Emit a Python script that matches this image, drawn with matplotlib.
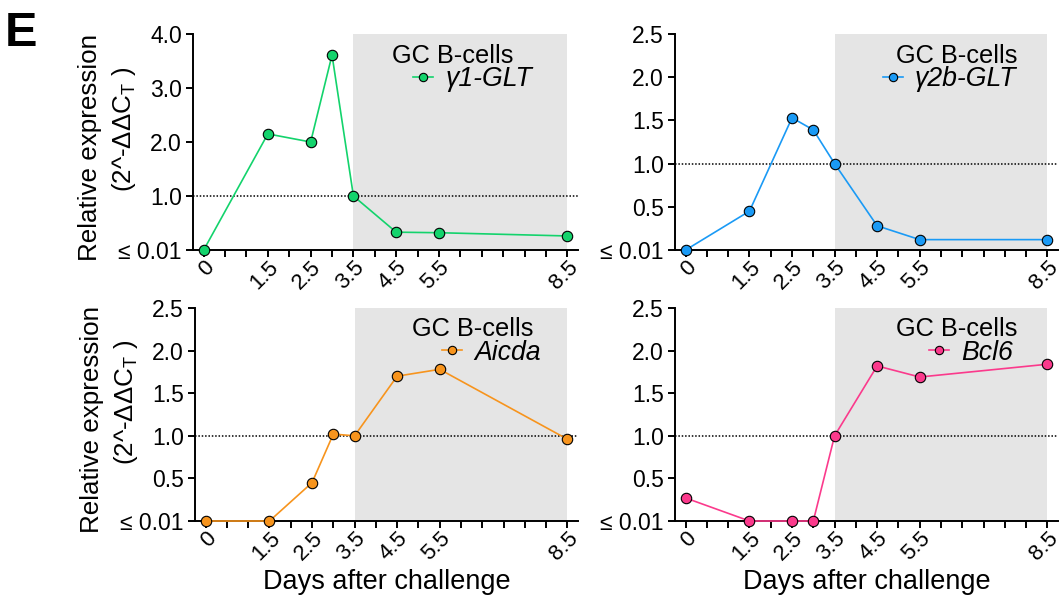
import numpy as np
import matplotlib
matplotlib.use('Agg')
import matplotlib.pyplot as plt

plt.rcParams['font.family'] = ['Liberation Sans', 'DejaVu Sans']
plt.rcParams['mathtext.default'] = 'regular'

days = [0, 1.5, 2.5, 3, 3.5, 4.5, 5.5, 8.5]
xtick_days = [0, 1.5, 2.5, 3.5, 4.5, 5.5, 8.5]

glt1 = [0.0, 2.15, 2.0, 3.61, 1.0, 0.33, 0.32, 0.26]
glt2b = [0.0, 0.45, 1.53, 1.39, 1.0, 0.28, 0.12, 0.12]
aicda = [0.0, 0.0, 0.45, 1.02, 1.0, 1.70, 1.78, 0.96]
bcl6 = [0.27, 0.0, 0.0, 0.0, 1.0, 1.82, 1.69, 1.84]

names = ['γ1-GLT', 'γ2b-GLT', 'Aicda', 'Bcl6']
colors = ['#13d36c', '#1a9af5', '#f7941d', '#fb3a8c']
yticks_a = [0, 1, 2, 3, 4]
yticks_b = [0, 0.5, 1, 1.5, 2, 2.5]
ylabels_a = ['≤ 0.01', '1.0', '2.0', '3.0', '4.0']
ylabels_b = ['≤ 0.01', '0.5', '1.0', '1.5', '2.0', '2.5']
yticks_all = [yticks_a, yticks_b, yticks_b, yticks_b]
ylabels_all = [ylabels_a, ylabels_b, ylabels_b, ylabels_b]
series = [glt1, glt2b, aicda, bcl6]

W, H = 1062, 599
fig = plt.figure(figsize=(W / 100, H / 100), dpi=100)

# axes boxes in pixels: left, top, right, bottom
boxes = [(193, 34, 578, 250), (675, 34, 1058, 250),
         (195, 308, 578, 521), (675, 308, 1058, 521)]
# title x (axes frac) and legend-entry left x (axes frac)
title_x = [0.675, 0.736, 0.726, 0.736]
entry_x = [0.572, 0.543, 0.645, 0.663]

for i, (l, t, r, b) in enumerate(boxes):
    ax = fig.add_axes([l / W, 1 - b / H, (r - l) / W, (b - t) / H])
    ax.set_xlim(-0.25, 8.75)
    ax.set_ylim(0, yticks_all[i][-1])
    ax.axvspan(3.5, 8.5, color='#e5e5e5', lw=0, zorder=0)
    ax.axhline(1.0, color='black', ls=(0, (1, 1.2)), lw=1.1, zorder=1)
    ax.plot(days, series[i], color=colors[i], lw=1.2, marker='o', ms=7.5,
            mfc=colors[i], mec='black', mew=0.8, zorder=3, clip_on=False,
            label=names[i])
    for s in ['top', 'right']:
        ax.spines[s].set_visible(False)
    for s in ['left', 'bottom']:
        ax.spines[s].set_linewidth(1.4)
    ax.set_yticks(yticks_all[i])
    ax.set_yticklabels(ylabels_all[i])
    xt = np.arange(0, 9, 0.5)
    ax.set_xticks(xt)
    ax.set_xticklabels([('%g' % v) if v in xtick_days else '' for v in xt],
                       rotation=45, ha='right', va='top', rotation_mode='anchor')
    ax.tick_params(direction='out', length=5, width=1.4, labelsize=16.5, pad=3)
    ax.tick_params(axis='x', pad=0, labelsize=16)
    ax.text(title_x[i], 0.868, 'GC B-cells', transform=ax.transAxes,
            ha='center', va='baseline', fontsize=18.3)
    leg = ax.legend(loc='center left', bbox_to_anchor=(entry_x[i], 0.79),
                    frameon=False, handlelength=0.75, handletextpad=0.45,
                    markerscale=0.8, fontsize=19.2, borderaxespad=0,
                    borderpad=0)
    for txt in leg.get_texts():
        txt.set_fontstyle('italic')
    if i % 2 == 0:
        # two-line y label, drawn as two texts
        ax.text(-0.268, 0.475, 'Relative expression', transform=ax.transAxes,
                rotation=90, ha='center', va='center', fontsize=18.7)
        ax.text(-0.180, 0.56, '(2^-ΔΔC$_{T}$ )', transform=ax.transAxes,
                rotation=90, ha='center', va='center', fontsize=18.7)
    if i >= 2:
        ax.set_xlabel('Days after challenge', fontsize=19.5, va='top')
        ax.xaxis.set_label_coords(0.5, -0.225)

fig.text(5 / W, 1 - 11 / H, 'E', fontsize=35, fontweight='bold', va='top', ha='left')

fig.savefig('out.png', dpi=100)
